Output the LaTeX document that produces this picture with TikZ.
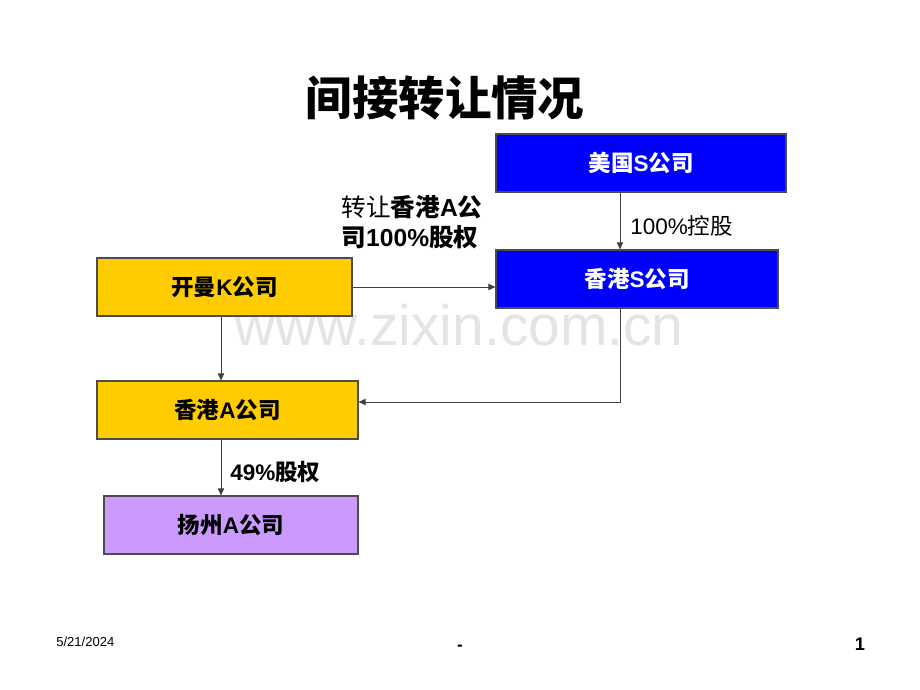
\documentclass[tikz,border=0pt]{standalone}
\usepackage{fontspec}
\setmainfont{Liberation Sans}
\newfontfamily\cjk{Noto Sans CJK SC}
\usetikzlibrary{arrows.meta}

\newcommand{\zh}[1]{{\cjk #1}}

\definecolor{boxblue}{RGB}{0,0,255}
\definecolor{boxgold}{RGB}{255,204,0}
\definecolor{boxlilac}{RGB}{204,153,255}
\definecolor{marklight}{RGB}{228,228,228}

\tikzset{
  firm/.style={draw=black!70, line width=0.8pt, minimum height=1.45cm, inner sep=0pt,
    font=\fontsize{16}{19}\selectfont\bfseries},
  link/.style={draw=black!75, line width=0.6pt, -{Triangle[length=5pt,width=4.5pt]}},
  tag/.style={inner sep=0pt, font=\fontsize{16}{19}\selectfont},
}

\begin{document}
\begin{tikzpicture}[x=0.025cm, y=-0.025cm]
\useasboundingbox (0,0) rectangle (920,690);

% watermark
\node[text=marklight, anchor=base, font=\fontsize{40.5}{48}\selectfont] (mark) at (459,345) {www.zixin.com.cn};

% title
\node[font=\fontsize{33}{40}\selectfont\bfseries] (title) at (445,98) {\zh{间接转让情况}};

% companies
\node[firm, fill=boxblue, text=white, minimum width=7.25cm] (usS) at (641,163) {\zh{美国}S\zh{公司}};
\node[firm, fill=boxblue, text=white, minimum width=7.05cm] (hkS) at (637,279) {\zh{香港}S\zh{公司}};
\node[firm, fill=boxgold, minimum width=6.375cm] (kmK) at (224.5,287) {\zh{开曼}K\zh{公司}};
\node[firm, fill=boxgold, minimum width=6.525cm] (hkA) at (227.5,410) {\zh{香港}A\zh{公司}};
\node[firm, fill=boxlilac, minimum width=6.35cm] (yzA) at (231,525) {\zh{扬州}A\zh{公司}};

\coordinate (xs) at (620,0);
\coordinate (xa) at (221,0);

% holdings
\draw[link] (usS.south -| xs) -- node[tag, pos=0.59, anchor=west, xshift=7pt] (ctl) {100\%\zh{控股}} (hkS.north -| xs);
\draw[link] (kmK.east) -- (kmK.east -| hkS.west);
\draw[link] (kmK.south -| xa) -- (hkA.north -| xa);
\draw[link] (hkS.south -| xs) |- ([yshift=0.2cm]hkA.east);
\draw[link] (hkA.south -| xa) -- node[tag, pos=0.58, anchor=west, xshift=6.4pt, font=\fontsize{16}{19}\selectfont\bfseries] (share) {49\%\zh{股权}} (yzA.north -| xa);

% transfer note
\node[tag, align=left, font=\fontsize{17.5}{21.5}\selectfont] (deal) at (412,222)
  {\zh{转让}\textbf{\zh{香港}A\zh{公}}\\\textbf{\zh{司}100\%\zh{股权}}};

% footer
\node[anchor=base west, inner sep=0pt, font=\fontsize{9.3}{11}\selectfont] (date) at (56,646) {5/21/2024};
\node[anchor=base, inner sep=0pt, font=\fontsize{12}{14}\selectfont\bfseries] (dash) at (460,650) {-};
\node[anchor=base, inner sep=0pt, font=\fontsize{13}{15}\selectfont\bfseries] (page) at (860,650) {1};

\end{tikzpicture}
\end{document}
